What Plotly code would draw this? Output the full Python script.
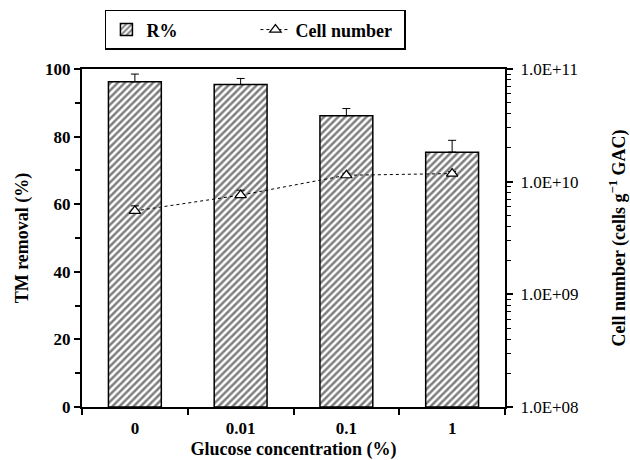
import plotly.graph_objects as go

categories = ["0", "0.01", "0.1", "1"]
removal = [96.2, 95.4, 86.2, 75.4]
removal_err = [2.3, 1.8, 2.1, 3.5]
cells = [5.5e9, 7.6e9, 1.14e10, 1.18e10]
cells_err = [0.6e9, 0.8e9, 0.5e9, 0.5e9]
right_tickvals = [1e8, 1e9, 1e10, 1e11]
right_ticktext = ["1.0E+08", "1.0E+09", "1.0E+10", "1.0E+11"]

FONT = "Liberation Serif, Times New Roman, serif"

fig = go.Figure()
fig.add_trace(go.Bar(
    x=categories, y=removal, name="<b>R%</b>", width=0.5,
    marker=dict(color="white", line=dict(color="black", width=1.5),
                pattern=dict(shape="/", fgcolor="black", bgcolor="white", size=5, solidity=0.5)),
    error_y=dict(type="data", array=removal_err, arrayminus=[0]*4, symmetric=False,
                 color="black", thickness=1, width=4),
))
fig.add_trace(go.Scatter(
    x=categories, y=cells, name="<b>Cell number</b>", yaxis="y2", mode="lines+markers",
    line=dict(color="black", width=1, dash="dot"),
    marker=dict(symbol="triangle-up", size=10, color="white", line=dict(color="black", width=1.2)),
    error_y=dict(type="data", array=cells_err, arrayminus=[0]*4, symmetric=False,
                 color="black", thickness=1, width=4),
))

tickfont = dict(family=FONT, size=17, color="black")
titlefont = dict(family=FONT, size=18, color="black")

fig.update_layout(
    width=630, height=460,
    margin=dict(l=82, r=125, t=69, b=53, autoexpand=False),
    plot_bgcolor="white", paper_bgcolor="white",
    font=dict(family=FONT, color="black"),
    showlegend=True,
    legend=dict(orientation="h", x=0.41, xanchor="center", y=1.175, yanchor="top",
                bordercolor="black", borderwidth=1.5, bgcolor="white",
                font=dict(family=FONT, size=18, color="black"),
                entrywidth=104, entrywidthmode="pixels", traceorder="normal"),
    xaxis=dict(
        type="category", range=[-0.5, 3.5], showline=True, linecolor="black", linewidth=2,
        mirror=True, ticks="outside", tickson="boundaries", ticklen=6, tickwidth=2,
        tickcolor="black", showgrid=False, zeroline=False, ticklabelstandoff=5,
        automargin=False,
        tickfont=tickfont, tickprefix="<b>", ticksuffix="</b>",
        title=dict(text="<b>Glucose concentration (%)</b>", font=titlefont, standoff=13),
    ),
    yaxis=dict(
        range=[0, 100], dtick=20, showline=True, linecolor="black", linewidth=2,
        ticks="outside", ticklen=6, tickwidth=2, tickcolor="black",
        minor=dict(dtick=10, ticks="outside", ticklen=5, tickwidth=1.5, tickcolor="black"),
        showgrid=False, zeroline=False, automargin=False,
        tickfont=tickfont, tickprefix="<b>", ticksuffix="</b>",
        title=dict(text="<b>TM removal (%)</b>", font=titlefont, standoff=12),
    ),
    yaxis2=dict(
        type="log", range=[8, 11], overlaying="y", side="right",
        showline=True, linecolor="black", linewidth=2,
        tickvals=right_tickvals, ticktext=right_ticktext,
        ticks="outside", ticklen=6, tickwidth=2, tickcolor="black",
        minor=dict(dtick="D1", ticks="outside", ticklen=4, tickwidth=1.2, tickcolor="black"),
        showgrid=False, zeroline=False, ticklabelstandoff=4, automargin=False,
        tickfont=tickfont, tickprefix="<b>", ticksuffix="</b>",
        title=dict(text="<b>Cell number (cells g<sup>\u22121</sup> GAC)</b>", font=titlefont, standoff=38),
    ),
)

fig.write_html("out.html")
